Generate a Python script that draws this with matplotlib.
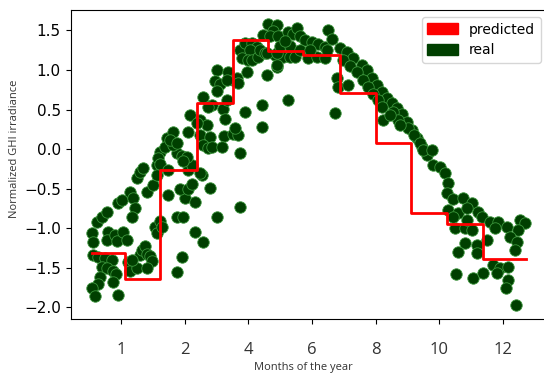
import numpy as np
import matplotlib.pyplot as plt
from matplotlib.patches import Patch

# month position (0-12) and normalized GHI of each day sample
month_pos = [
    # Jan
    0.00, 0.03, 0.14, 0.28, 0.41, 0.44, 0.41, 0.64, 0.69, 0.86, 0.97, 0.72, 0.83,
    0.03, 0.17, 0.36, 0.55, 0.28, 0.41, 0.58, 0.66, 0.22, 0.58, 0.17, 0.00, 0.08,
    0.72, 1.00, 1.05,
    # Feb - Mar
    1.05, 1.13, 1.19, 1.11, 1.24, 1.33, 1.41, 1.52, 1.69, 1.80, 1.80, 1.88,
    1.33, 1.38, 1.47, 1.52, 1.60, 1.66, 1.24, 1.52, 1.11,
    1.74, 1.80, 1.88, 1.94,
    2.10, 2.35, 2.52, 2.57, 2.43, 2.65, 2.76, 2.65, 3.04, 3.26, 2.85, 2.85, 3.07,
    3.46, 4.09, 2.49, 2.35,
    1.82, 1.88, 2.10, 2.76, 2.99, 2.35, 2.49, 2.63, 2.52,
    2.07, 2.02, 2.24, 2.24, 2.16, 2.35, 2.65, 2.71, 2.99, 3.18, 2.90, 2.99, 3.26,
    3.07, 3.21, 3.32, 3.07, 3.32, 3.21,
    # Apr - May
    3.46, 3.40, 3.54, 3.46, 3.76, 3.90, 4.01, 3.73, 4.04, 4.29, 4.09, 4.15, 4.23,
    4.42, 4.56, 4.37, 4.31, 4.42, 4.59, 4.64, 4.78, 4.73, 4.84, 5.11,
    3.62, 4.23, 4.70, 3.68, 3.73, 3.65, 3.90, 4.04, 4.70, 3.95, 3.59, 4.09,
    # Jun - Jul
    4.87, 5.11, 5.00, 4.92, 5.14, 5.42, 5.56, 5.67, 5.75, 5.89, 6.08, 6.25, 6.44,
    6.52, 6.64, 5.06, 5.28, 5.47, 5.61, 5.97, 6.22, 6.44, 4.84, 5.11, 5.11, 5.42,
    5.20, 5.47, 5.75, 6.03, 5.34, 6.50, 6.86,
    # Aug - Sep
    7.05, 7.22, 7.46, 7.60, 7.74, 7.88, 8.02, 8.16, 8.29, 8.43, 8.57, 8.71, 8.85,
    8.99, 9.12, 9.26,
    6.94, 7.13, 7.33, 7.49, 7.63, 7.77, 7.91, 8.32, 8.46, 8.74, 8.90, 9.07, 9.15,
    9.40,
    6.77, 6.80, 7.08, 6.72, 8.02, 8.05, 8.24, 8.52,
    # Oct - Dec
    9.43, 9.62, 9.76, 9.84, 9.81, 9.98, 10.26, 10.51, 10.67, 10.78, 9.84, 10.12,
    10.37, 11.00, 11.23, 11.47, 11.14, 11.83, 11.97, 11.78, 11.56, 11.75, 11.69,
    10.04, 10.31, 10.51, 10.92, 10.31, 10.12, 10.64, 10.64,
    11.09, 11.28, 11.50, 11.20, 10.06, 10.53, 10.81, 11.50, 11.45, 11.72,
    9.98, 10.37,
]

ghi_real = [
    # Jan
    -1.06, -1.18, -0.92, -0.86, -0.80, -1.05, -1.15, -1.09, -1.16, -1.05, -1.15,
    -0.68, -0.64,
    -1.34, -1.37, -1.38, -1.40, -1.49, -1.50, -1.54, -1.58, -1.62, -1.68, -1.71,
    -1.76, -1.86, -1.85, -1.43, -1.54,
    # Feb - Mar
    -0.54, -0.62, -0.75, -0.86, -0.37, -0.29, -0.24, -0.54, -0.46, -0.20, -0.33,
    -0.04,
    -1.34, -1.28, -1.23, -1.33, -1.35, -1.42, -1.50, -1.50, -1.40,
    -0.99, -1.06, -0.91, -0.99,
    -0.58, -0.86, -0.86, -0.62, -0.51, -0.51, -0.44, -0.27, -0.33, -0.49, -0.67,
    -1.05, -1.18, -0.86, -0.73, -1.37, -1.55,
    -0.11, -0.19, -0.27, -0.20, -0.30, -0.05, -0.09, -0.10, -0.15,
    0.14, 0.03, 0.05, 0.21, 0.11, 0.08, 0.21, 0.43, 0.37, 0.30, 0.33, 0.18, 0.15,
    0.05, 0.01, 0.03, 0.66, 0.56, 0.53,
    # Apr - May
    1.00, 0.86, 0.82, 0.73, 0.97, 0.87, 0.90, 0.87, 0.83, 0.97, 1.25, 1.15, 1.34,
    1.34, 1.29, 1.25, 1.13, 1.13, 1.16, 1.25, 1.21, 1.44, 0.94, 1.04,
    0.51, 0.47, 0.56, 0.38, 0.62, 0.16, 0.19, 0.18, 0.28, 0.27, 0.03, -0.05,
    # Jun - Jul
    1.58, 1.57, 1.49, 1.43, 1.43, 1.48, 1.45, 1.53, 1.43, 1.38, 1.35, 1.33, 1.29,
    1.50, 1.39, 1.19, 1.16, 1.16, 1.16, 1.15, 1.16, 1.15, 1.21, 1.21, 1.06, 0.62,
    1.30, 1.30, 1.25, 1.25, 1.37, 1.25, 1.28,
    # Aug - Sep
    1.23, 1.15, 1.06, 1.00, 0.90, 0.81, 0.72, 0.64, 0.58, 0.52, 0.44, 0.34, 0.24,
    0.14, 0.03, -0.08,
    1.13, 1.05, 0.97, 0.87, 0.78, 0.70, 0.62, 0.47, 0.37, 0.27, 0.18, 0.08, -0.01,
    -0.01,
    0.90, 0.78, 0.81, 0.46, 0.53, 0.37, 0.43, 0.30,
    # Oct - Dec
    -0.20, -0.23, -0.30, -0.43, -0.56, -0.63, -0.62, -0.68, -0.80, -0.86, -0.77,
    -0.81, -0.75, -0.92, -0.92, -0.99, -1.00, -0.90, -0.94, -1.02, -1.11, -1.18,
    -1.28,
    -1.00, -1.00, -1.02, -1.15, -1.19, -1.30, -1.21, -1.31,
    -1.47, -1.50, -1.49, -1.57, -1.58, -1.63, -1.57, -1.66, -1.76, -1.97,
    -0.86, -0.90,
]

# monthly prediction (step edges in month position)
month_edges = [0.0, 0.91, 1.88, 2.90, 3.90, 4.87, 5.83, 6.86, 7.85, 8.82, 9.81, 10.81, 12.0]
ghi_pred = [-1.31, -1.64, -0.27, 0.58, 1.38, 1.24, 1.19, 0.71, 0.08, -0.81, -0.95, -1.39]

tick_pos = [0.80, 2.56, 4.31, 6.08, 7.85, 9.59, 11.36]
tick_lbl = ['1', '2', '4', '6', '8', '10', '12']

green = '#003f00'

fig = plt.figure(figsize=(5.44, 3.76), dpi=100)
ax = fig.add_axes([0.1296, 0.1516, 0.8772, 0.8218])

ax.scatter(month_pos, ghi_real, s=68, color=green, edgecolors='#3c963c', linewidths=0.6)
ax.step(month_edges, ghi_pred + [ghi_pred[-1]], where='post', color='red', linewidth=2)

ax.set_xticks(tick_pos)
ax.set_xticklabels(tick_lbl, fontsize=12, family='Open Sans', color='#333333')
ax.tick_params(axis='x', pad=13)
ax.tick_params(axis='y', labelsize=11)

ax.set_xlabel('Months of the year', fontsize=8, family='Open Sans', color='#333333')
ax.xaxis.set_label_coords(0.489, -0.14)
ax.set_ylabel('Normalized GHI irradiance', fontsize=8, family='Open Sans', color='#333333')
ax.yaxis.set_label_coords(-0.105, 0.55)

ax.spines['right'].set_visible(False)

ax.legend(handles=[Patch(color='red', label='predicted'),
                   Patch(color=green, label='real')],
          loc='upper right', fontsize=10, handlelength=2.2, handleheight=0.9)

plt.savefig('out.png', dpi=100)
